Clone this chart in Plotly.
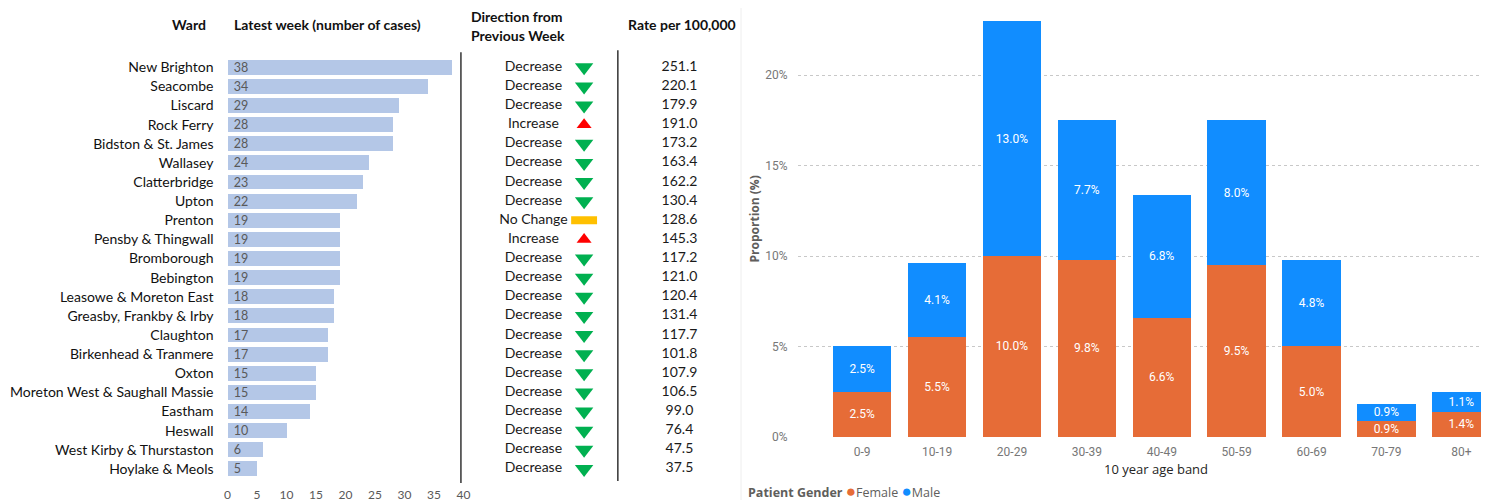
import plotly.graph_objects as go

# ---------------- DATA ----------------
wards = ["New Brighton", "Seacombe", "Liscard", "Rock Ferry", "Bidston & St. James",
         "Wallasey", "Clatterbridge", "Upton", "Prenton", "Pensby & Thingwall",
         "Bromborough", "Bebington", "Leasowe & Moreton East", "Greasby, Frankby & Irby",
         "Claughton", "Birkenhead & Tranmere", "Oxton", "Moreton West & Saughall Massie",
         "Eastham", "Heswall", "West Kirby & Thurstaston", "Hoylake & Meols"]
cases = [38, 34, 29, 28, 28, 24, 23, 22, 19, 19, 19, 19, 18, 18, 17, 17, 15, 15, 14, 10, 6, 5]
directions = ["Decrease", "Decrease", "Decrease", "Increase", "Decrease", "Decrease",
              "Decrease", "Decrease", "No Change", "Increase", "Decrease", "Decrease",
              "Decrease", "Decrease", "Decrease", "Decrease", "Decrease", "Decrease",
              "Decrease", "Decrease", "Decrease", "Decrease"]
rates = [251.1, 220.1, 179.9, 191.0, 173.2, 163.4, 162.2, 130.4, 128.6, 145.3, 117.2,
         121.0, 120.4, 131.4, 117.7, 101.8, 107.9, 106.5, 99.0, 76.4, 47.5, 37.5]

age_bands = ["0-9", "10-19", "20-29", "30-39", "40-49", "50-59", "60-69", "70-79", "80+"]
female = [2.5, 5.5, 10.0, 9.8, 6.6, 9.5, 5.0, 0.9, 1.4]
male = [2.5, 4.1, 13.0, 7.7, 6.8, 8.0, 4.8, 0.9, 1.1]
genders = ["Female", "Male"]

# ---------------- STYLE ----------------
OFF = 8                       # page margin around the figure
YS = 500 / 508                # vertical scale seen in the snapshot
W, H = 1489 - OFF, 500
def px(x): return (x - OFF) / W
def py(y): return 1 - (y / YS - OFF) / H

XL_FONT = "Lato, Carlito, Liberation Sans, sans-serif"
PBI_FONT = "Open Sans, Segoe UI, sans-serif"
PBI_NUM = "Roboto, DIN, sans-serif"
GENDER_COLORS = {"Female": "#E66C37", "Male": "#118DFF"}

# table column anchors (screen pixels)
COL_DIR_TEXT = 534
COL_DIR_ICON = 585
COL_RATE = 681

dir_style = {
    "Decrease": dict(symbol="triangle-down", size=16, color="#00B050", lw=0),
    "Increase": dict(symbol="triangle-up", size=13, color="#FF0000", lw=0),
    "No Change": dict(symbol="line-ew", size=18.5, color="#FFC000", lw=8),
}

# right chart category geometry (screen pixels)
R_LEFT = 800
R_FIRST = 865
R_STEP = 75.4
R_RIGHT = 1489
r0 = -(R_FIRST - R_LEFT) / R_STEP
r1 = r0 + (R_RIGHT - R_LEFT) / R_STEP

fig = go.Figure()

# Left: horizontal bars
fig.add_trace(go.Bar(
    y=wards, x=cases, orientation="h", width=0.78,
    marker=dict(color="#B4C7E7", line=dict(width=0)),
    texttemplate="\u00a0%{x}", textposition="inside", insidetextanchor="start",
    textfont=dict(family=XL_FONT, size=12.5, color="#595959"),
    constraintext="none", textangle=0,
    xaxis="x", yaxis="y", hoverinfo="skip",
))

# Direction text
fig.add_trace(go.Scatter(
    x=[COL_DIR_TEXT] * len(wards), y=wards, mode="text", text=directions,
    textposition="middle center",
    textfont=dict(family=XL_FONT, size=14, color="#1a1a1a"),
    xaxis="x2", yaxis="y", hoverinfo="skip",
))

# Direction icons
for d, st in dir_style.items():
    ys = [w for w, dd in zip(wards, directions) if dd == d]
    if not ys:
        continue
    fig.add_trace(go.Scatter(
        x=[COL_DIR_ICON] * len(ys), y=ys, mode="markers",
        marker=dict(symbol=st["symbol"], size=st["size"], color=st["color"],
                    line=dict(width=st["lw"], color=st["color"])),
        xaxis="x2", yaxis="y", hoverinfo="skip",
    ))

# Rates
fig.add_trace(go.Scatter(
    x=[COL_RATE] * len(wards), y=wards, mode="text", text=[f"{r:.1f}" for r in rates],
    textposition="middle center",
    textfont=dict(family=XL_FONT, size=14, color="#1a1a1a"),
    xaxis="x2", yaxis="y", hoverinfo="skip",
))

# Right: stacked bars
for g, vals in zip(genders, [female, male]):
    fig.add_trace(go.Bar(
        x=age_bands, y=vals, name=g, width=0.78,
        marker=dict(color=GENDER_COLORS[g], line=dict(width=0)),
        text=[f"{v:.1f}%" for v in vals], textposition="inside", insidetextanchor="middle",
        textfont=dict(family=PBI_NUM, size=12, color="white"),
        constraintext="none", textangle=0,
        xaxis="x3", yaxis="y3", hoverinfo="skip",
    ))

legend_html = "<b>Patient Gender</b> " + " ".join(
    f"<span style='color:{GENDER_COLORS[g]};font-size:17px'>\u25CF</span>{g}" for g in genders)

Y3_TOP = 23.6
fig.update_layout(
    width=W, height=H, margin=dict(l=0, r=0, t=0, b=0),
    paper_bgcolor="white", plot_bgcolor="white", showlegend=False,
    barmode="stack",
    xaxis=dict(domain=[px(226), px(463.6)], range=[0, 40], dtick=5, showgrid=False,
               zeroline=False, showline=False, ticks="", ticklabelstandoff=8,
               tickfont=dict(family=XL_FONT, size=12, color="#595959"), anchor="y"),
    yaxis=dict(domain=[py(477.5), py(57.5)], type="category", categoryarray=wards,
               range=[21.5, -0.5], showgrid=False, zeroline=False, showline=False,
               ticks="", ticklabelstandoff=13,
               tickfont=dict(family=XL_FONT, size=14, color="#111"), anchor="x"),
    xaxis2=dict(domain=[px(461), px(745)], range=[461, 745], visible=False, anchor="y"),
    xaxis3=dict(domain=[px(R_LEFT), px(R_RIGHT)], range=[r0, r1], type="category",
                showgrid=False, zeroline=False, showline=False, ticks="",
                ticklabelstandoff=6,
                tickfont=dict(family=PBI_NUM, size=12, color="#777"), anchor="y3"),
    yaxis3=dict(domain=[py(436), py(436 - Y3_TOP * 18.05)], range=[0, Y3_TOP], dtick=5,
                ticksuffix="%",
                showgrid=True, gridcolor="#C8C8C8", griddash="dot", gridwidth=1,
                zeroline=False, showline=False, ticks="", ticklabelstandoff=9,
                tickfont=dict(family=PBI_NUM, size=12, color="#777"), anchor="x3"),
    shapes=[
        dict(type="line", xref="paper", yref="paper", x0=px(461), x1=px(461),
             y0=py(52), y1=py(482), line=dict(color="black", width=1.2)),
        dict(type="line", xref="paper", yref="paper", x0=px(619), x1=px(619),
             y0=py(50), y1=py(480), line=dict(color="black", width=1.2)),
        dict(type="line", xref="paper", yref="paper", x0=px(743), x1=px(743),
             y0=0, y1=1, line=dict(color="#EEEEEE", width=1)),
    ],
    annotations=[
        dict(text="<b>Ward</b>", x=px(187), y=py(24), xref="paper", yref="paper",
             xanchor="center", yanchor="middle", showarrow=False,
             font=dict(family=XL_FONT, size=14, color="#111")),
        dict(text="<b>Latest week (number of cases)</b>", x=px(230), y=py(24),
             xref="paper", yref="paper", xanchor="left", yanchor="middle", showarrow=False,
             font=dict(family=XL_FONT, size=14, color="#111")),
        dict(text="<b>Direction from</b>", x=px(469), y=py(16), xref="paper", yref="paper",
             xanchor="left", yanchor="middle", showarrow=False,
             font=dict(family=XL_FONT, size=14, color="#111")),
        dict(text="<b>Previous Week</b>", x=px(469), y=py(35), xref="paper", yref="paper",
             xanchor="left", yanchor="middle", showarrow=False,
             font=dict(family=XL_FONT, size=14, color="#111")),
        dict(text="<b>Rate per 100,000</b>", x=px(627), y=py(24), xref="paper", yref="paper",
             xanchor="left", yanchor="middle", showarrow=False,
             font=dict(family=XL_FONT, size=14, color="#111")),
        dict(text="<b>Proportion (%)</b>", x=px(757), y=py(218), xref="paper", yref="paper",
             xanchor="center", yanchor="middle", textangle=-90, showarrow=False,
             font=dict(family=PBI_FONT, size=12, color="#605E5C")),
        dict(text="10 year age band", x=px(1161), y=py(468), xref="paper", yref="paper",
             xanchor="center", yanchor="middle", showarrow=False,
             font=dict(family=PBI_FONT, size=13, color="#252423")),
        dict(text=legend_html, x=px(748), y=py(490), xref="paper", yref="paper",
             xanchor="left", yanchor="middle", showarrow=False,
             font=dict(family=PBI_FONT, size=12.5, color="#605E5C")),
    ],
)

fig.write_html("out.html")
